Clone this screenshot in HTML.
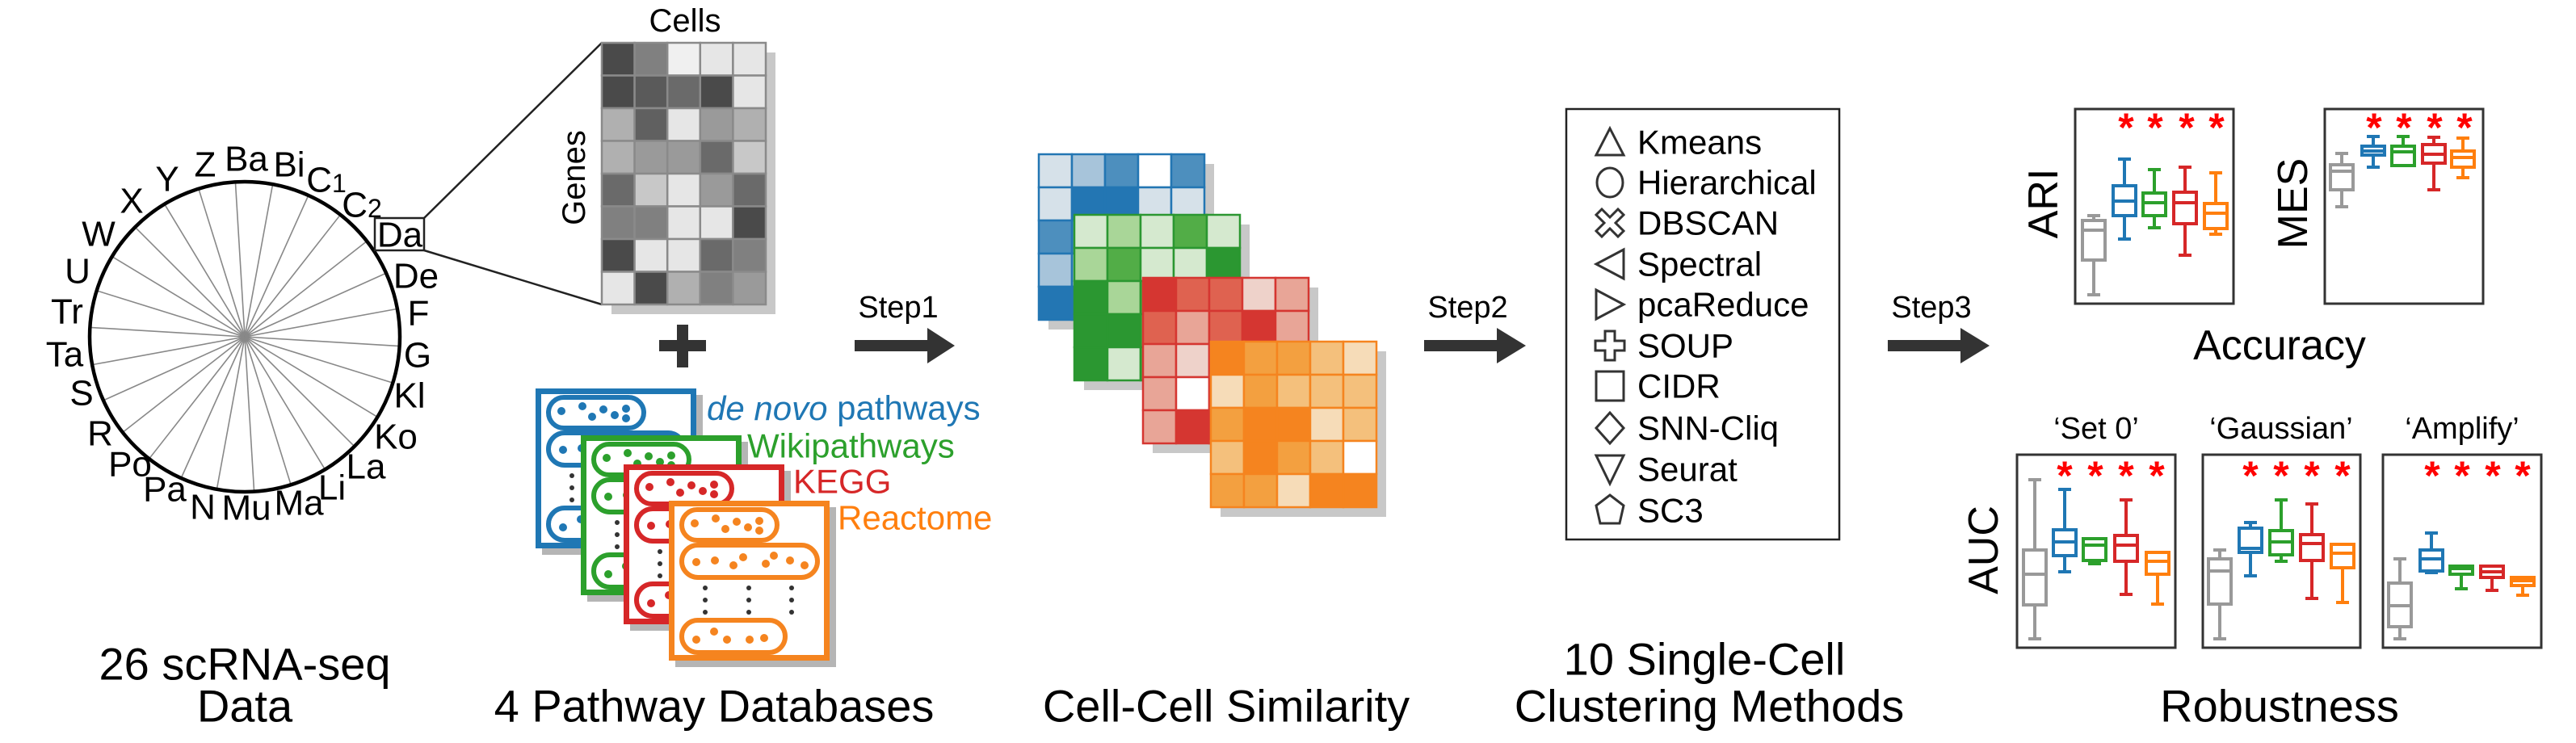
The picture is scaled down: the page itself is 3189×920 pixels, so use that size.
<!DOCTYPE html>
<html><head><meta charset="utf-8"><style>
html,body{margin:0;padding:0;background:#fff;}
svg{display:block;}
text{font-family:"Liberation Sans",Arial,sans-serif;}
</style></head><body>
<svg id="s" width="3189" height="920" viewBox="0 0 3189 920" xmlns="http://www.w3.org/2000/svg">
<rect width="3189" height="920" fill="#fff"/>
<g id="spokes" stroke="#888" stroke-width="1.6"></g>
<circle cx="303" cy="417" r="192" fill="none" stroke="#000" stroke-width="4.5"/>
<g font-size="44" fill="#000" text-anchor="middle" dominant-baseline="central">
<text x="305" y="197">Ba</text><text x="358" y="204">Bi</text>
<text x="404" y="223">C<tspan font-size="32" dy="4">1</tspan></text>
<text x="448" y="254">C<tspan font-size="32" dy="4">2</tspan></text>
<text x="495" y="291">Da</text>
<text x="515" y="342">De</text><text x="518" y="388">F</text><text x="517" y="440">G</text>
<text x="507" y="490">Kl</text><text x="490" y="541">Ko</text><text x="453" y="578">La</text>
<text x="411" y="604">Li</text><text x="370" y="623">Ma</text><text x="305" y="629">Mu</text>
<text x="251" y="628">N</text><text x="204" y="606">Pa</text><text x="161" y="575">Po</text>
<text x="124" y="537">R</text><text x="101" y="487">S</text><text x="80" y="439">Ta</text>
<text x="83" y="386">Tr</text><text x="96" y="336">U</text><text x="122" y="290">W</text>
<text x="163" y="249">X</text><text x="207" y="222">Y</text><text x="254" y="204">Z</text>
</g>
<rect x="464" y="270" width="61" height="40" fill="none" stroke="#222" stroke-width="2.5"/>
<line x1="525" y1="270" x2="745" y2="53" stroke="#222" stroke-width="2.5"/>
<line x1="525" y1="310" x2="745" y2="377" stroke="#222" stroke-width="2.5"/>
<rect x="757" y="65" width="203" height="324" fill="#c8c8c8"/>
<g id="genes"></g>
<text x="848" y="26" font-size="40" text-anchor="middle" dominant-baseline="central">Cells</text>
<text x="0" y="0" font-size="40" text-anchor="middle" dominant-baseline="central" transform="translate(711,220) rotate(-90)">Genes</text>
<rect x="816" y="421" width="58" height="14" fill="#333"/>
<rect x="838" y="402" width="14" height="53" fill="#333"/>
<g id="boards"></g>
<g font-size="42" dominant-baseline="central">
<text x="875" y="505" fill="#1f77b4"><tspan font-style="italic">de novo</tspan> pathways</text>
<text x="925" y="552" fill="#2ca02c">Wikipathways</text>
<text x="982" y="596" fill="#d62728">KEGG</text>
<text x="1037" y="641" fill="#ff7f0e">Reactome</text>
</g>
<g id="sim"></g>
<g id="arrows" fill="#333">
<rect x="1058" y="421" width="92" height="14"/><polygon points="1148,406 1182,428 1148,450"/>
<rect x="1763" y="421" width="92" height="14"/><polygon points="1853,406 1889,428 1853,450"/>
<rect x="2337" y="421" width="92" height="14"/><polygon points="2427,406 2463,428 2427,450"/>
</g>
<g font-size="38" text-anchor="middle" dominant-baseline="central">
<text x="1112" y="381">Step1</text><text x="1817" y="381">Step2</text><text x="2391" y="381">Step3</text>
</g>
<rect x="1939" y="135" width="338" height="533" fill="none" stroke="#222" stroke-width="2.5"/>
<g id="icons" fill="none" stroke="#333" stroke-width="3"></g>
<g font-size="42" dominant-baseline="central">
<text x="2027" y="176">Kmeans</text><text x="2027" y="226">Hierarchical</text>
<text x="2027" y="276">DBSCAN</text><text x="2027" y="327">Spectral</text>
<text x="2027" y="377">pcaReduce</text><text x="2027" y="428">SOUP</text>
<text x="2027" y="478">CIDR</text><text x="2027" y="530">SNN-Cliq</text>
<text x="2027" y="581">Seurat</text><text x="2027" y="632">SC3</text>
</g>
<g fill="none" stroke="#333" stroke-width="3">
<rect x="2569" y="135" width="196" height="241"/>
<rect x="2878" y="135" width="196" height="241"/>
<rect x="2497" y="563" width="196" height="239"/>
<rect x="2727" y="563" width="195" height="239"/>
<rect x="2950" y="563" width="196" height="239"/>
</g>
<g id="bp" fill="none" stroke-width="4"></g>
<g font-size="50" fill="#f00" font-weight="bold" text-anchor="middle" dominant-baseline="central">
<text x="2632" y="158">*</text><text x="2668" y="158">*</text><text x="2707" y="158">*</text><text x="2744" y="158">*</text>
<text x="2939" y="158">*</text><text x="2976" y="158">*</text><text x="3014" y="158">*</text><text x="3051" y="158">*</text>
<text x="2556" y="589">*</text><text x="2594" y="589">*</text><text x="2632" y="589">*</text><text x="2670" y="589">*</text>
<text x="2786" y="589">*</text><text x="2824" y="589">*</text><text x="2862" y="589">*</text><text x="2900" y="589">*</text>
<text x="3011" y="589">*</text><text x="3048" y="589">*</text><text x="3086" y="589">*</text><text x="3123" y="589">*</text>
</g>
<g font-size="52" text-anchor="middle" dominant-baseline="central">
<text transform="translate(2530,252) rotate(-90)">ARI</text>
<text transform="translate(2839,252) rotate(-90)">MES</text>
<text transform="translate(2456,681) rotate(-90)">AUC</text>
<text x="2822" y="428">Accuracy</text>
</g>
<g font-size="38" text-anchor="middle" dominant-baseline="central">
<text x="2595" y="531">‘Set 0’</text><text x="2824" y="531">‘Gaussian’</text><text x="3048" y="531">‘Amplify’</text>
</g>
<g font-size="56" text-anchor="middle" dominant-baseline="central">
<text x="303" y="822">26 scRNA-seq</text><text x="303" y="874">Data</text>
<text x="884" y="874">4 Pathway Databases</text>
<text x="1518" y="874">Cell-Cell Similarity</text>
<text x="2110" y="816">10 Single-Cell</text>
<text x="2116" y="874">Clustering Methods</text>
<text x="2822" y="874">Robustness</text>
</g>
</svg>
<script>
const NS="http://www.w3.org/2000/svg";
function el(p,t,a){const e=document.createElementNS(NS,t);for(const k in a)e.setAttribute(k,a[k]);p.appendChild(e);return e;}
const g=id=>document.getElementById(id);
for(let i=0;i<26;i++){const a=i*2*Math.PI/26+Math.PI/26*0.5;el(g('spokes'),'line',{x1:303,y1:417,x2:303+190*Math.cos(a),y2:417+190*Math.sin(a)});}
const gm=[["4a","80","f0","e6","e6"],["4a","5a","6a","4a","e6"],["b0","60","e6","9a","b0"],["b0","9a","9a","6a","c8"],["6a","c8","e6","9a","6a"],["80","80","e6","e6","4a"],["4a","e6","e6","6a","80"],["e6","4a","b0","80","9a"]];
for(let r=0;r<8;r++)for(let c=0;c<5;c++){const v=gm[r][c];el(g('genes'),'rect',{x:745+c*40.6,y:53+r*40.5,width:40.6,height:40.5,fill:'#'+v+v+v,stroke:'#8a8a8a','stroke-width':2.5});}
const cols=['#1f77b4','#2ca02c','#d62728','#f5841f'];
const pos=[[663,481],[719,539],[772,575],[828,620]];
pos.forEach((p,i)=>{const G=g('boards'),[x,y]=p,c=cols[i];
el(G,'rect',{x:x+8,y:y+8,width:199,height:198,fill:'#b5b5b5'});
el(G,'rect',{x:x+3.5,y:y+3.5,width:192,height:191,fill:'#fff',stroke:c,'stroke-width':7});
el(G,'rect',{x:x+16,y:y+11,width:118,height:38,rx:19,fill:'none',stroke:c,'stroke-width':6});
el(G,'rect',{x:x+16,y:y+55,width:168,height:40,rx:20,fill:'none',stroke:c,'stroke-width':6});
el(G,'rect',{x:x+16,y:y+148,width:128,height:40,rx:20,fill:'none',stroke:c,'stroke-width':6});
[[32,28],[58,22],[70,35],[84,26],[98,33],[112,25],[112,37]].forEach(d=>el(G,'circle',{cx:x+d[0],cy:y+d[1],r:5,fill:c}));
[[34,76],[57,74],[80,80],[92,70],[120,78],[130,68],[150,74],[168,80]].forEach(d=>el(G,'circle',{cx:x+d[0],cy:y+d[1],r:5,fill:c}));
[[34,172],[56,162],[72,172],[100,172],[118,170]].forEach(d=>el(G,'circle',{cx:x+d[0],cy:y+d[1],r:5,fill:c}));
[45,99,152].forEach(dx=>[108,123,138].forEach(dy=>el(G,'circle',{cx:x+dx,cy:y+dy,r:3,fill:'#333'})));
});
const pal={b:['#ffffff','#d6e1e9','#a7c4da','#4d8fbe','#2376b3'],g:['#ffffff','#d5e9cf','#a9d698','#52ad47','#2b9731'],r:['#ffffff','#eed2ca','#e8a597','#df6250','#d53631'],o:['#ffffff','#f6dcb8','#f4c07c','#f3a040','#f5841f']};
const mats=[['b',1286,191,[[1,2,3,0,3],[1,4,4,1,1],[3,3,3,3,3],[2,2,2,2,2],[4,4,4,4,4]],'#2376b3'],
['g',1330,266,[[1,2,1,3,1],[2,3,1,1,4],[4,2,3,3,3],[4,4,3,3,3],[4,1,3,3,3]],'#2b9731'],
['r',1415,344,[[4,3,3,1,2],[3,2,3,4,2],[2,1,3,3,3],[2,0,3,3,3],[2,4,3,3,3]],'#d53631'],
['o',1499,423,[[4,3,3,2,1],[1,3,2,2,2],[3,4,4,1,2],[2,4,3,2,0],[3,3,1,4,4]],'#f5841f']];
mats.forEach(m=>{const G=g('sim'),[k,x,y,v,bc]=m;
el(G,'rect',{x:x+12,y:y+12,width:205,height:205,fill:'#c8c8c8'});
for(let r=0;r<5;r++)for(let c=0;c<5;c++)el(G,'rect',{x:x+c*41,y:y+r*41,width:41,height:41,fill:pal[k][v[r][c]],stroke:bc,'stroke-width':2.5});});
const I=g('icons'),ix=1993;const ys=[176,226,276,327,377,428,478,530,581,632];
el(I,'polygon',{points:`${ix-17},${ys[0]+16} ${ix+17},${ys[0]+16} ${ix},${ys[0]-17}`});
el(I,'ellipse',{cx:ix,cy:ys[1],rx:16,ry:18});
{const y=ys[2];el(I,'path',{d:`M${ix-10},${y-17} L${ix},${y-7} L${ix+10},${y-17} L${ix+17},${y-10} L${ix+7},${y} L${ix+17},${y+10} L${ix+10},${y+17} L${ix},${y+7} L${ix-10},${y+17} L${ix-17},${y+10} L${ix-7},${y} L${ix-17},${y-10} Z`});}
el(I,'polygon',{points:`${ix+17},${ys[3]-18} ${ix+17},${ys[3]+18} ${ix-17},${ys[3]}`});
el(I,'polygon',{points:`${ix-17},${ys[4]-18} ${ix-17},${ys[4]+18} ${ix+17},${ys[4]}`});
{const y=ys[5];el(I,'path',{d:`M${ix-6},${y-18} h12 v12 h12 v12 h-12 v12 h-12 v-12 h-12 v-12 h12 Z`});}
el(I,'rect',{x:ix-17,y:ys[6]-18,width:34,height:36});
el(I,'polygon',{points:`${ix},${ys[7]-19} ${ix+17},${ys[7]} ${ix},${ys[7]+19} ${ix-17},${ys[7]}`});
el(I,'polygon',{points:`${ix-17},${ys[8]-17} ${ix+17},${ys[8]-17} ${ix},${ys[8]+18}`});
{const y=ys[9];el(I,'polygon',{points:`${ix},${y-19} ${ix+17},${y-6} ${ix+12},${y+16} ${ix-12},${y+16} ${ix-17},${y-6}`});}
const bc=['#999999','#1f77b4','#2ca02c','#d62728','#ff7f0e'];
const plots=[
[[2592,267,365,273,322,285],[2630,197,296,230,267,249],[2667,210,282,239,267,251],[2705,207,316,238,277,251],[2743,214,290,252,283,264]],
[[2899,190,256,204,235,212],[2938,169,207,181,192,187],[2975,169,205,181,205,188],[3013,170,235,179,202,191],[3049,171,220,187,207,195]],
[[2519,594,791,681,749,711],[2556,606,708,656,688,671],[2593,667,698,667,694,675],[2632,619,736,663,695,675],[2671,684,748,684,711,695]],
[[2748,681,791,692,748,707],[2786,647,713,654,684,679],[2824,619,695,657,687,671],[2862,624,741,662,694,673],[2900,674,746,674,703,685]],
[[2971,692,791,722,776,750],[3010,660,709,681,707,692],[3047,701,729,701,711,704],[3085,701,731,701,715,708],[3123,715,737,715,725,719]]];
const B=g('bp');
plots.forEach(p=>p.forEach((b,i)=>{const [x,lo,hi,q1,q3,md]=b,c=bc[i],w=14;
el(B,'line',{x1:x,y1:lo,x2:x,y2:hi,stroke:c});
el(B,'line',{x1:x-8,y1:lo,x2:x+8,y2:lo,stroke:c});
el(B,'line',{x1:x-8,y1:hi,x2:x+8,y2:hi,stroke:c});
el(B,'rect',{x:x-w,y:q1,width:2*w,height:q3-q1,fill:'#fff',stroke:c});
el(B,'line',{x1:x-w,y1:md,x2:x+w,y2:md,stroke:c});}));
</script>
</body></html>
